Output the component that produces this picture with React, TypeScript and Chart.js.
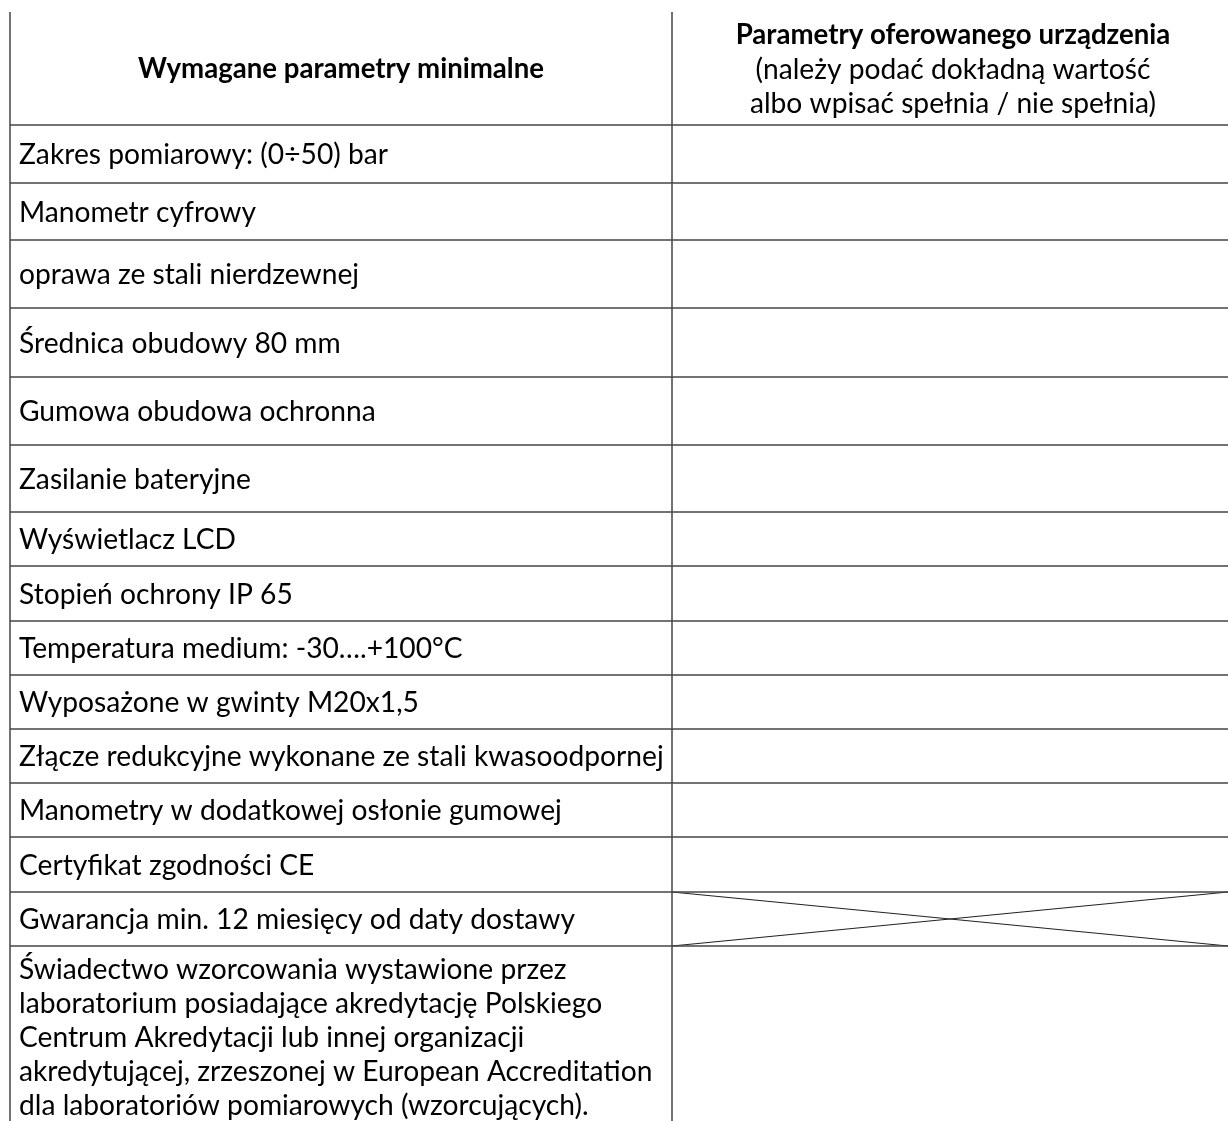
import React, { useEffect, useRef } from 'react';
import { Chart, registerables } from 'chart.js';

Chart.register(...registerables);

// ---- table content ----
const headerLeft = 'Wymagane parametry minimalne';
const headerRight = [
  'Parametry oferowanego urządzenia',
  '(należy podać dokładną wartość',
  'albo wpisać spełnia / nie spełnia)',
];
const requirements: string[][] = [
  ['Zakres pomiarowy: (0÷50) bar'],
  ['Manometr cyfrowy'],
  ['oprawa ze stali nierdzewnej'],
  ['Średnica obudowy 80 mm'],
  ['Gumowa obudowa ochronna'],
  ['Zasilanie bateryjne'],
  ['Wyświetlacz LCD'],
  ['Stopień ochrony IP 65'],
  ['Temperatura medium: -30….+100°C'],
  ['Wyposażone w gwinty M20x1,5'],
  ['Złącze redukcyjne wykonane ze stali kwasoodpornej'],
  ['Manometry w dodatkowej osłonie gumowej'],
  ['Certyfikat zgodności CE'],
  ['Gwarancja min. 12 miesięcy od daty dostawy'],
  [
    'Świadectwo wzorcowania wystawione przez',
    'laboratorium posiadające akredytację Polskiego',
    'Centrum Akredytacji lub innej organizacji',
    'akredytującej, zrzeszonej w European Accreditation',
    'dla laboratoriów pomiarowych (wzorcujących).',
  ],
];
// offered-value cell is crossed out (not applicable)
const crossedOut = [false, false, false, false, false, false, false, false, false, false, false, false, false, true, false];
// table grid in page units
const columnEdges = [10, 672, 1228];
const tableTop = 12;
const headerBottom = 125;
const rowBottoms = [183, 240, 308, 377, 445, 512, 566, 621, 675, 729, 783, 837, 892, 946, 1121];

const PAGE_W = 1228;
const PAGE_H = 1121;

const FONT = 'Lato, "Open Sans", sans-serif';
const FONT_SIZE = 28.2;
const BOLD_SIZE = 27.6;
const LINE_H = 34;
const GRID = '#444444';

function seg(x1: number, y1: number, x2: number, y2: number, color = GRID, width = 1.5) {
  return {
    data: [{ x: x1, y: y1 }, { x: x2, y: y2 }],
    showLine: true,
    borderColor: color,
    borderWidth: width,
    pointRadius: 0,
    pointHoverRadius: 0,
    fill: false,
  };
}

const textPlugin = {
  id: 'tableText',
  afterDatasetsDraw(chart: any) {
    const { ctx, scales } = chart;
    const xs = scales.x;
    const ys = scales.y;
    ctx.save();
    ctx.fillStyle = '#000000';
    ctx.textBaseline = 'middle';

    // header left
    ctx.font = `bold ${BOLD_SIZE}px ${FONT}`;
    ctx.textAlign = 'center';
    const lc = xs.getPixelForValue((columnEdges[0] + columnEdges[1]) / 2);
    const rc = xs.getPixelForValue((columnEdges[1] + columnEdges[2]) / 2) + 3;
    const hMid = ys.getPixelForValue((tableTop + headerBottom) / 2 + 1);
    ctx.fillText(headerLeft, lc, hMid);
    headerRight.forEach((line, i) => {
      ctx.font = i === 0 ? `bold ${BOLD_SIZE}px ${FONT}` : `${FONT_SIZE}px ${FONT}`;
      ctx.fillText(line, rc, hMid + (i - 1) * LINE_H);
    });

    // rows
    ctx.font = `${FONT_SIZE}px ${FONT}`;
    ctx.textAlign = 'left';
    const tx = xs.getPixelForValue(columnEdges[0]) + 9;
    requirements.forEach((lines, i) => {
      const top = i === 0 ? headerBottom : rowBottoms[i - 1];
      const bottom = rowBottoms[i];
      if (lines.length === 1) {
        const mid = (ys.getPixelForValue(top) + ys.getPixelForValue(bottom)) / 2 + 1;
        ctx.fillText(lines[0], tx, mid);
      } else {
        const t = ys.getPixelForValue(top);
        lines.forEach((l, j) => ctx.fillText(l, tx, t + 24 + j * LINE_H));
      }
    });
    ctx.restore();
  },
};

export default function App() {
  const ref = useRef<HTMLCanvasElement>(null);
  useEffect(() => {
    document.body.style.margin = '0';
    document.body.style.background = '#ffffff';
    const datasets: any[] = [];
    // vertical lines
    columnEdges.slice(0, 2).forEach((x) => datasets.push(seg(x, tableTop, x, PAGE_H)));
    // horizontal lines
    [headerBottom, ...rowBottoms.slice(0, -1)].forEach((y) =>
      datasets.push(seg(columnEdges[0], y, columnEdges[2], y))
    );
    // crosses
    crossedOut.forEach((c, i) => {
      if (!c) return;
      const top = i === 0 ? headerBottom : rowBottoms[i - 1];
      const bottom = rowBottoms[i];
      datasets.push(seg(columnEdges[1], top, columnEdges[2], bottom, '#222222', 1.2));
      datasets.push(seg(columnEdges[1], bottom, columnEdges[2], top, '#222222', 1.2));
    });
    const chart = new Chart(ref.current as HTMLCanvasElement, {
      type: 'scatter',
      data: { datasets },
      options: {
        animation: false,
        responsive: false,
        maintainAspectRatio: false,
        layout: { padding: 0 },
        plugins: { legend: { display: false }, tooltip: { enabled: false } },
        scales: {
          x: { type: 'linear', min: 0, max: PAGE_W, display: false },
          y: { type: 'linear', min: 0, max: PAGE_H, reverse: true, display: false },
        },
      },
      plugins: [textPlugin],
    });
    return () => chart.destroy();
  }, []);
  return (
    <canvas
      ref={ref}
      width={PAGE_W}
      height={PAGE_H}
      style={{ display: 'block', width: PAGE_W, height: PAGE_H }}
    />
  );
}
